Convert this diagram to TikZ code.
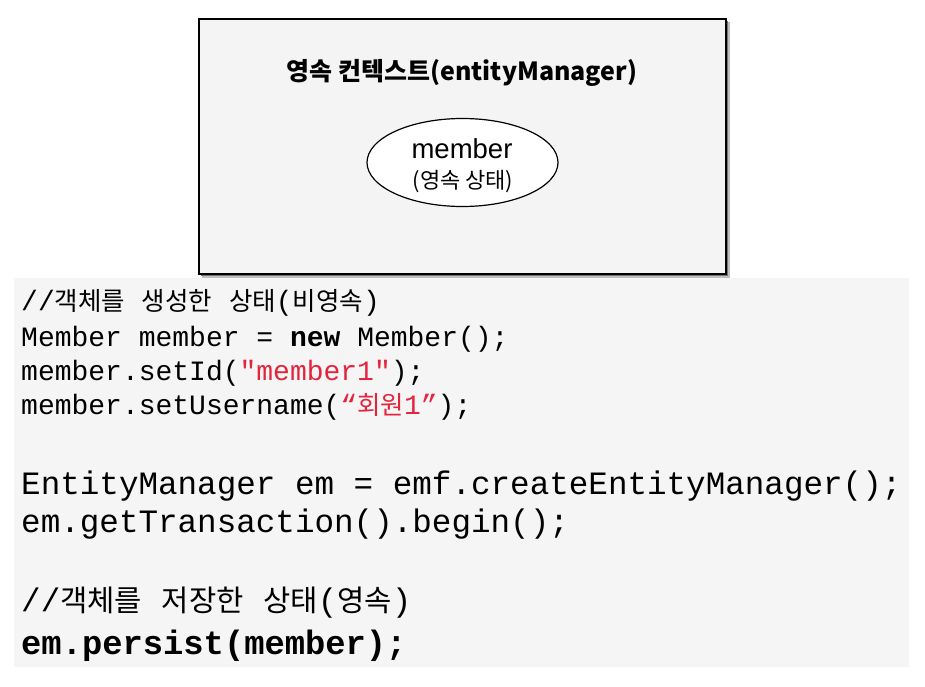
\documentclass[tikz,border=0pt]{standalone}
\usepackage{fontspec}
\setmainfont{Liberation Sans}
\setmonofont{Liberation Mono}
\newfontfamily\kr{Noto Sans CJK KR}
\newfontfamily\krc{Noto Sans CJK KR}[Scale=0.91]
\usetikzlibrary{shapes.geometric}
\definecolor{codered}{HTML}{E2243D}
\definecolor{boxfill}{HTML}{F4F4F4}
\definecolor{codebg}{HTML}{F5F5F5}
\newcommand\K[1]{{\krc #1}}
\tikzset{
  codeA/.style={anchor=base west, inner sep=0pt, font=\ttfamily\fontsize{28}{30}\selectfont},
  codeB/.style={anchor=base west, inner sep=0pt, font=\ttfamily\fontsize{32.6}{36}\selectfont},
}
\begin{document}
\begin{tikzpicture}[x=1pt,y=-1pt]
\useasboundingbox (0,0) rectangle (925,687);
% code background
\fill[codebg] (14,278) rectangle (909,667);
% context box with shadow
\fill[black!25] (202,22) rectangle (730,278);
\fill[black!55] (201,21) rectangle (728,276);
\node[draw=black, line width=1.6pt, fill=boxfill, minimum width=527pt, minimum height=255pt, inner sep=0pt] (ctx) at (462.5,146.5) {};
\node[inner sep=0pt, anchor=base, font=\kr\bfseries\fontsize{25}{28}\selectfont] (title) at (462,81) {영속 컨텍스트(entityManager)};
\node[ellipse, draw=black, line width=1.2pt, fill=white, minimum width=191pt, minimum height=88pt, inner sep=0pt] (mem) at (462.5,162.5) {};
\node[inner sep=0pt, anchor=base, font=\fontsize{27.5}{30}\selectfont] (memname) at (462,159) {member};
\node[inner sep=0pt, anchor=base, font=\kr\fontsize{22}{25}\selectfont] (memstate) at (463,188) {(영속 상태)};
% code block 1
\node[codeA] (l1) at (21,310) {//\K{객체를}\ \K{생성한}\ \K{상태}(\K{비영속})};
\node[codeA] (l2) at (21,346) {Member member = \textbf{new} Member();};
\node[codeA] (l3) at (21,380) {member.setId(\textcolor{codered}{"member1"});};
\node[codeA] (l4) at (21,414) {member.setUsername(\textcolor{codered}{“\K{회원}1”});};
% code block 2
\node[codeB] (l5) at (21,494) {EntityManager em = emf.createEntityManager();};
\node[codeB] (l6) at (21,532) {em.getTransaction().begin();};
\node[codeB] (l7) at (21,611) {//\K{객체를}\ \K{저장한}\ \K{상태}(\K{영속})};
\node[codeB, font=\ttfamily\fontsize{33.8}{36}\selectfont] (l8) at (21,654) {\textbf{em.persist(member);}};
\end{tikzpicture}
\end{document}
